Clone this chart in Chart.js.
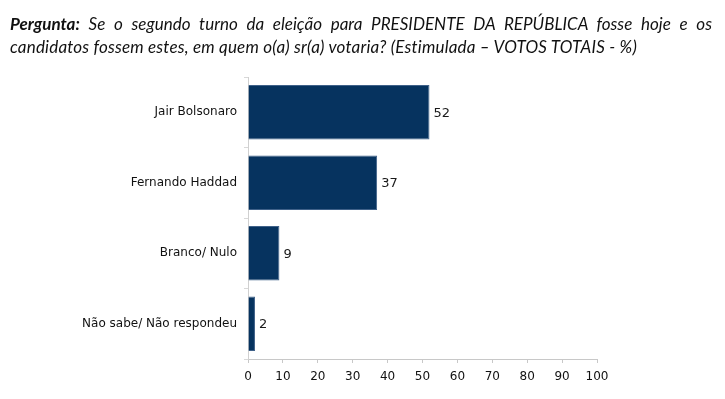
<!DOCTYPE html>
<html><head><meta charset="utf-8">
<script src="https://cdn.jsdelivr.net/npm/chart.js@4/dist/chart.umd.min.js"></script>
<style>
html,body{margin:0;padding:0;background:#fff;width:725px;height:399px;overflow:hidden}
#title{position:absolute;left:10px;top:12px;width:702px;font-family:Lato,"Liberation Sans",sans-serif;font-style:italic;font-size:17px;line-height:23px;color:#111}
#title .l1{display:block;text-align:justify;text-align-last:justify;white-space:nowrap}
#title .l2{display:block;white-space:nowrap;letter-spacing:0.2px}
#title b{font-weight:bold}
#wrap{position:absolute;left:0;top:0;width:725px;height:399px}
</style></head><body>
<div id="wrap"><canvas id="c" width="725" height="399"></canvas></div>
<div id="title"><span class="l1"><b>Pergunta:</b> Se o segundo turno da eleição para PRESIDENTE DA REPÚBLICA fosse hoje e os</span><span class="l2">candidatos fossem estes, em quem o(a) sr(a) votaria? (Estimulada – VOTOS TOTAIS - %)</span></div>
<script>
const categories = ["Jair Bolsonaro", "Fernando Haddad", "Branco/ Nulo", "Não sabe/ Não respondeu"];
const values = [52, 37, 9, 2];
const xTicks = [0, 10, 20, 30, 40, 50, 60, 70, 80, 90, 100];

const valueLabels = {
  id: 'valueLabels',
  afterDatasetsDraw(chart) {
    const ctx = chart.ctx;
    const meta = chart.getDatasetMeta(0);
    ctx.save();
    ctx.font = '13px "DejaVu Sans", Verdana, sans-serif';
    ctx.fillStyle = '#1a1a1a';
    ctx.textAlign = 'left';
    ctx.textBaseline = 'middle';
    meta.data.forEach((bar, i) => {
      ctx.fillText(String(values[i]), bar.x + 4, bar.y + 1);
    });
    ctx.restore();
  }
};

new Chart(document.getElementById('c'), {
  type: 'bar',
  data: {
    labels: categories,
    datasets: [{
      data: values,
      backgroundColor: '#06335f',
      borderColor: '#3f6189',
      borderWidth: 1,
      barPercentage: 0.77,
      categoryPercentage: 1.0
    }]
  },
  options: {
    indexAxis: 'y',
    responsive: false,
    animation: false,
    layout: { padding: { left: 0, right: 128, top: 77, bottom: 0 } },
    plugins: { legend: { display: false }, tooltip: { enabled: false } },
    scales: {
      x: {
        min: 0, max: 100,
        afterBuildTicks(scale) { scale.ticks = xTicks.map(v => ({ value: v })); },
        afterFit(scale) { scale.height = 40; },
        grid: { display: true, drawOnChartArea: false, tickLength: 4, color: '#c8c8c8' },
        border: { display: true, color: '#c8c8c8', width: 1 },
        ticks: { font: { family: '"DejaVu Sans", Verdana, sans-serif', size: 12 }, color: '#111', padding: 7, autoSkip: false, maxRotation: 0 }
      },
      y: {
        afterFit(scale) { scale.width = 248; },
        grid: { display: true, drawOnChartArea: false, tickLength: 4, color: '#d8d8d8', offset: true },
        border: { display: true, color: '#d0d0d0', width: 1 },
        ticks: { font: { family: '"DejaVu Sans", Verdana, sans-serif', size: 12 }, color: '#111', padding: 7 }
      }
    }
  },
  plugins: [valueLabels]
});
</script>
</body></html>
